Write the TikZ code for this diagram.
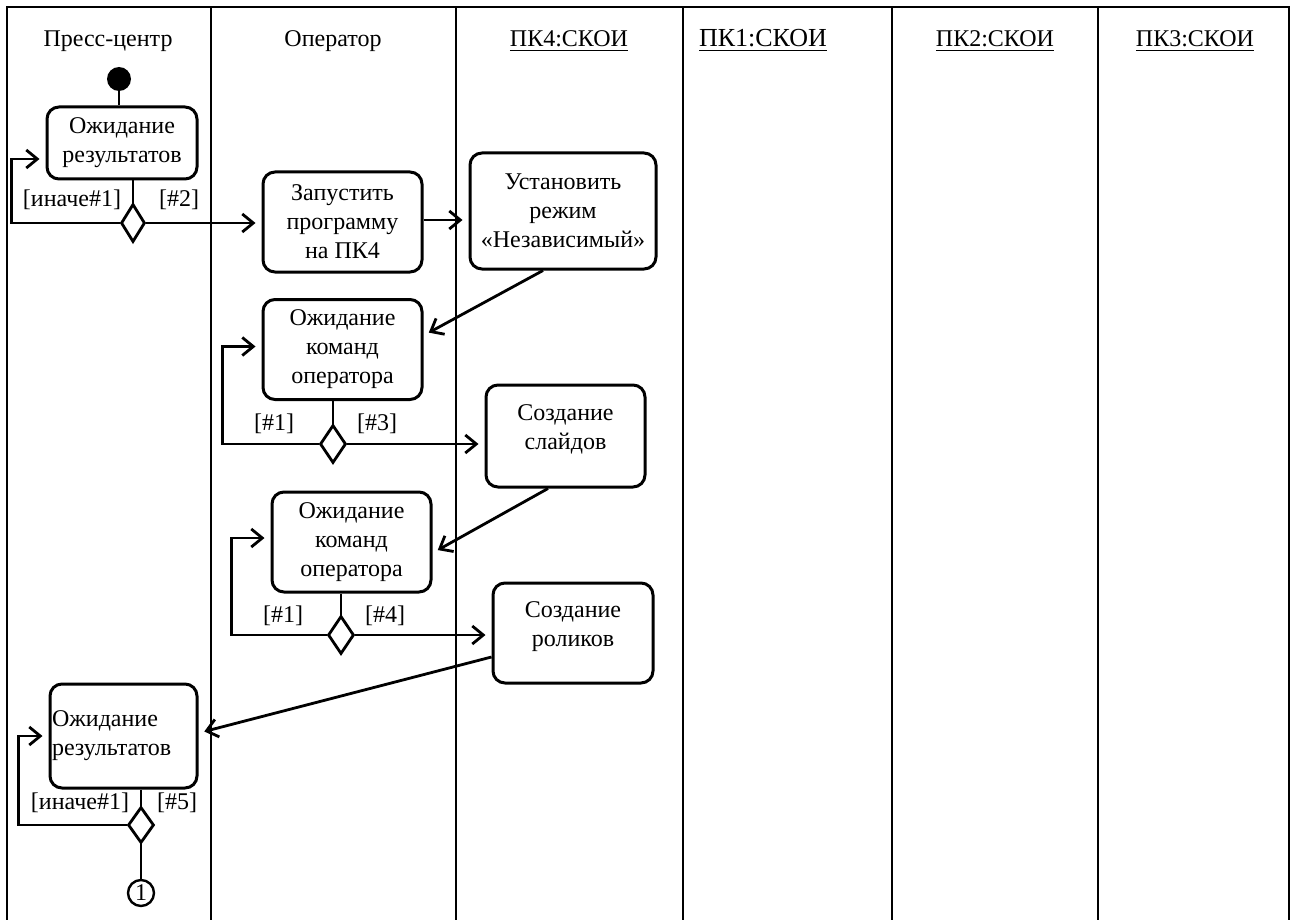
\documentclass[tikz,border=0pt]{standalone}
\usepackage{fontspec}
\setmainfont{Liberation Serif}
\usetikzlibrary{shapes.geometric,arrows.meta}

\tikzset{
	act/.style={draw, rounded corners=6pt, line width=1.5pt, align=center, inner sep=0pt, minimum width=79.5pt, minimum height=50pt},
	branch/.style={draw, diamond, line width=1.4pt, inner sep=0pt, minimum width=13pt, minimum height=19pt},
	flow/.style={line width=1.4pt, -{Straight Barb[length=5.5pt,width=9pt]}, shorten >=3pt},
	swim/.style={line width=1.2pt},
	stem/.style={line width=1.4pt},
	guard/.style={anchor=base},
}

\begin{document}
\begin{tikzpicture}[x=0.5pt, y=-0.5pt, font=\fontsize{12}{14.5}\selectfont]
		\useasboundingbox (0,0) rectangle (1291,920);
		
		%Swimlanes
		\draw[swim] (7,920) -- (7,7) -- (1289,7) -- (1289,920);
		\draw[swim] (211,7) -- (211,920);
		\draw[swim] (456,7) -- (456,920);
		\draw[swim] (683,7) -- (683,920);
		\draw[swim] (892,7) -- (892,920);
		\draw[swim] (1098,7) -- (1098,920);
		
		\node[anchor=base] (hPress) at (108,47) {Пресс-центр};
		\node[anchor=base] (hOper) at (333,47) {Оператор};
		\node[anchor=base] (hPK4) at (569,47) {\underline{ПК4:СКОИ}};
		\node[anchor=base, font=\fontsize{13}{15}\selectfont] (hPK1) at (763,47) {\underline{ПК1:СКОИ}};
		\node[anchor=base] (hPK2) at (995,47) {\underline{ПК2:СКОИ}};
		\node[anchor=base] (hPK3) at (1195,47) {\underline{ПК3:СКОИ}};
		
		%Start and first wait
		\node[circle, fill=black, minimum size=12pt, inner sep=0pt] (start) at (119,79) {};
		\node[act, minimum width=75pt, minimum height=36pt] (wait1) at (122,143) {Ожидание\\результатов};
		\node[branch, minimum width=12pt] (d1) at (133,223) {};
		\node[guard] (g1) at (72,206) {[иначе\#1]};
		\node[guard] (g2) at (179,206) {[\#2]};
		
		\draw[stem] (start) -- (start |- wait1.north);
		\draw[stem] (d1.north |- wait1.south) -- (d1.north);
		\draw[flow] (d1.west) -- ++(-108,0) |- ([yshift=-8pt]wait1.west);
		
		%Program start on PK4
		\node[act] (run) at (342.5,222) {Запустить\\программу\\на ПК4};
		\node[act, minimum width=93pt, minimum height=58pt] (setmode) at (563,211) {Установить\\режим\\«Независимый»};
		
		\draw[flow] (d1.east) -- (d1.east -| run.west);
		\draw[flow] ([yshift=1pt]run.east) -- ([yshift=1pt]run.east -| setmode.west);
		
		%Slides
		\node[act] (cmd1) at (342.5,349.5) {Ожидание\\команд\\оператора};
		\node[branch] (d2) at (333,444) {};
		\node[guard] (g3) at (274,430) {[\#1]};
		\node[guard] (g4) at (377,430) {[\#3]};
		\node[act, minimum height=51pt] (slides) at (565.5,436) {Создание\\слайдов\\[-5.5pt]\mbox{}};
		
		\draw[flow] ([xshift=-10pt]setmode.south) -- ([yshift=7pt]cmd1.east);
		\draw[stem] (d2.north |- cmd1.south) -- (d2.north);
		\draw[flow] (d2.west) -- ++(-96,0) |- ([yshift=1.5pt]cmd1.west);
		\draw[flow] (d2.east) -- (d2.east -| slides.west);
		
		%Clips
		\node[act] (cmd2) at (351.5,542) {Ожидание\\команд\\оператора};
		\node[branch] (d3) at (341,635) {};
		\node[guard] (g5) at (283,622) {[\#1]};
		\node[guard] (g6) at (385,622) {[\#4]};
		\node[act, minimum width=80pt] (clips) at (573,633) {Создание\\роликов\\[-5.5pt]\mbox{}};
		
		\draw[flow] ([xshift=-8.75pt]slides.south) -- ([yshift=-5.5pt]cmd2.east);
		\draw[stem] (d3.north |- cmd2.south) -- (d3.north);
		\draw[flow] (d3.west) -- ++(-95,0) |- ([yshift=2pt]cmd2.west);
		\draw[flow] (d3.east) -- (d3.east -| clips.west);
		
		%Second wait
		\node[act, minimum width=73.5pt, minimum height=52pt, text width=71.5pt, align=left, inner xsep=1pt] (wait2) at (123.5,736) {Ожидание\\результатов};
		\node[branch, minimum height=18pt] (d4) at (141,825) {};
		\node[guard] (g7) at (80,809) {[иначе\#1]};
		\node[guard] (g8) at (177,809) {[\#5]};
		\node[circle, draw, line width=1.2pt, minimum size=13pt, inner sep=0pt] (goto) at (141,893) {1};
		
		\draw[flow] ([yshift=-12pt]clips.west) -- ([yshift=1.5pt]wait2.east);
		\draw[stem] (d4.north |- wait2.south) -- (d4.north);
		\draw[flow] (d4.west) -- ++(-108,0) |- (wait2.west);
		\draw[stem] (d4.south) -- (goto);
		
	\end{tikzpicture}
\end{document}
